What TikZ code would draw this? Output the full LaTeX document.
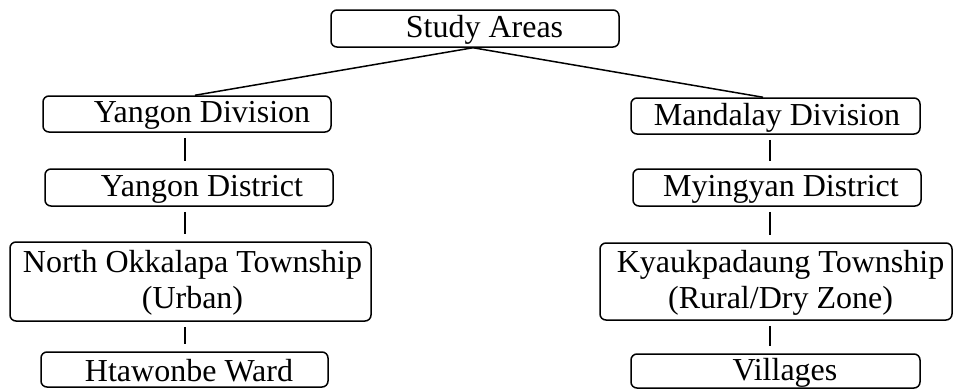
\documentclass[tikz,border=0pt]{standalone}
\usepackage{fontspec}
\setmainfont{Liberation Serif}
\begin{document}
\begin{tikzpicture}[x=1pt,y=-1pt,
  box/.style={draw, line width=1.5pt, rounded corners=6pt, inner sep=0pt},
  tag/.style={font=\fontsize{32}{36}\selectfont, align=center, inner sep=0pt, yshift=-1.5pt},
  fan/.style={line width=1.5pt},
  link/.style={line width=1.5pt, shorten <=5pt, shorten >=7pt}
]
\useasboundingbox (0,0) rectangle (954,389);

% top node
\node[box, minimum width=288pt, minimum height=37pt,
  label={[tag, xshift=9.5pt]center:Study Areas}] (study) at (475,28.5) {};

% Yangon branch
\node[box, minimum width=288pt, minimum height=36pt,
  label={[tag, xshift=15pt]center:Yangon Division}] (ydiv) at (187,114) {};
\node[box, minimum width=288pt, minimum height=37pt,
  label={[tag, xshift=13pt]center:Yangon District}] (ydist) at (189,187.5) {};
\node[box, minimum width=361pt, minimum height=79pt,
  label={[tag, xshift=2pt]center:North Okkalapa Township\\(Urban)}] (ytown) at (190.5,281.5) {};
\node[box, minimum width=287pt, minimum height=35pt,
  label={[tag, xshift=4.5pt]center:Htawonbe Ward}] (yward) at (184.5,369.5) {};

% Mandalay branch
\node[box, minimum width=289pt, minimum height=36pt,
  label={[tag, xshift=1.5pt]center:Mandalay Division}] (mdiv) at (775.5,116) {};
\node[box, minimum width=288pt, minimum height=37pt,
  label={[tag, xshift=4pt]center:Myingyan District}] (mdist) at (777,187.5) {};
\node[box, minimum width=352pt, minimum height=77pt,
  label={[tag, xshift=4.5pt]center:Kyaukpadaung Township\\(Rural/Dry Zone)}] (mtown) at (776,281.5) {};
\node[box, minimum width=289pt, minimum height=34pt,
  label={[tag, xshift=9.5pt]center:Villages}] (mvill) at (775.5,371) {};

% branch lines from the top node
\draw[fan] ([xshift=-2pt]study.south) -- ([xshift=8pt]ydiv.north);
\draw[fan] ([xshift=-2pt]study.south) -- ([xshift=-12.5pt]mdiv.north);

% vertical links
\coordinate (lx) at (185,0);
\coordinate (rx) at (770,0);
\draw[link] (ydiv.south -| lx) -- (ydist.north -| lx);
\draw[link] (ydist.south -| lx) -- (ytown.north -| lx);
\draw[link] (ytown.south -| lx) -- (yward.north -| lx);
\draw[link] (mdiv.south -| rx) -- (mdist.north -| rx);
\draw[link] (mdist.south -| rx) -- (mtown.north -| rx);
\draw[link] (mtown.south -| rx) -- (mvill.north -| rx);
\end{tikzpicture}
\end{document}
